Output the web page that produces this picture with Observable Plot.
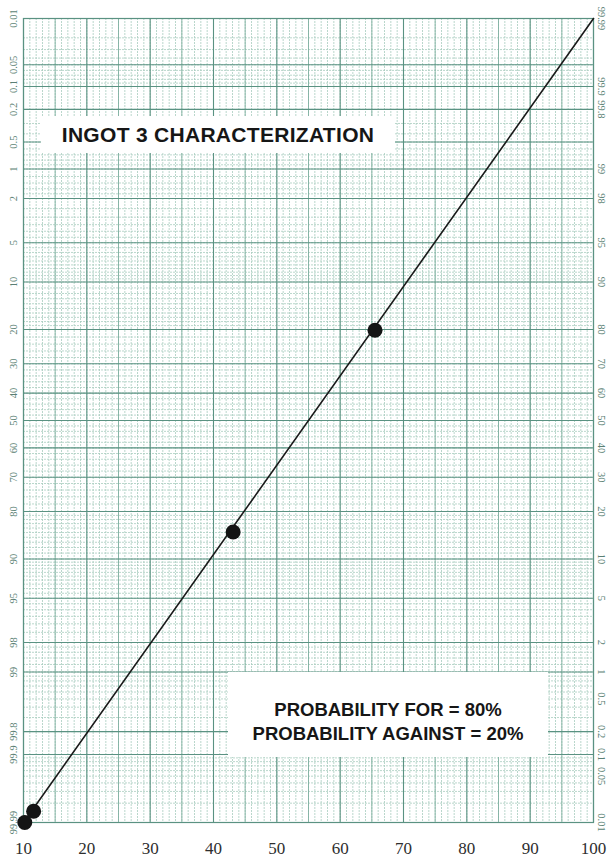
<!DOCTYPE html>
<html>
<head>
<meta charset="utf-8">
<script src="https://cdn.jsdelivr.net/npm/d3@7"></script>
<script src="https://cdn.jsdelivr.net/npm/@observablehq/plot@0.6"></script>
<style>
  html, body { margin: 0; padding: 0; background: #ffffff; }
  #chart { position: relative; width: 607px; height: 857px; }
  .note {
    position: absolute;
    background: #ffffff;
    font-family: "Liberation Sans", Arial, sans-serif;
    font-weight: bold;
    color: #161616;
    text-align: center;
    white-space: nowrap;
  }
</style>
</head>
<body>
<div id="chart">
  <div class="note" id="title" style="left:41px;top:116px;width:354px;height:37px;line-height:38px;font-size:21px;letter-spacing:0.3px;">INGOT 3 CHARACTERIZATION</div>
  <div class="note" id="odds" style="left:228px;top:672px;width:320px;height:85px;font-size:18.5px;line-height:24px;box-sizing:border-box;">
    <div style="margin-top:26px;">PROBABILITY FOR = 80%</div>
    <div>PROBABILITY AGAINST = 20%</div>
  </div>
</div>
<script>
// Measured samples: position along the ingot (x) and cumulative percent
const sampleX = [10.2, 11.6, 43.1, 65.5];
const samplePct = [99.99, 99.985, 84.9, 20.2];

// Straight-line fit drawn across the probability paper
const fitX = [10, 100];
const fitPct = [99.99, 0.01];

// Axis labels
const xTicks = [10, 20, 30, 40, 50, 60, 70, 80, 90, 100];
const leftLabels = ["0.01", "0.05", "0.1", "0.2", "0.5", "1", "2", "5", "10", "20", "30", "40", "50", "60", "70", "80", "90", "95", "98", "99", "99.8", "99.9", "99.99"];
const rightLabels = ["99.99", "99.9", "99.8", "99", "98", "95", "90", "80", "70", "60", "50", "40", "30", "20", "10", "5", "2", "1", "0.5", "0.2", "0.1", "0.05", "0.01"];

// Ruling of the probability paper: [from, to, step] in percent
const paperRuling = [
  [0.01, 0.1, 0.01], [0.1, 1, 0.1], [1, 2, 0.2], [2, 10, 0.5],
  [10, 20, 1], [20, 80, 2], [80, 90, 1], [90, 98, 0.5],
  [98, 99, 0.2], [99, 99.9, 0.1], [99.9, 99.99, 0.01]
];

// Inverse of the standard normal CDF (Acklam's rational approximation)
function probit(p) {
  const a = [-3.969683028665376e+01, 2.209460984245205e+02, -2.759285104469687e+02, 1.383577518672690e+02, -3.066479806614716e+01, 2.506628277459239e+00];
  const b = [-5.447609879822406e+01, 1.615858368580409e+02, -1.556989798598866e+02, 6.680131188771972e+01, -1.328068155288572e+01];
  const c = [-7.784894002430293e-03, -3.223964580411365e-01, -2.400758277161838e+00, -2.549732539343734e+00, 4.374664141464968e+00, 2.938163982698783e+00];
  const d = [7.784695709041462e-03, 3.224671290700398e-01, 2.445134137142996e+00, 3.754408661907416e+00];
  const pl = 0.02425, ph = 1 - pl;
  if (p < pl) {
    const q = Math.sqrt(-2 * Math.log(p));
    return (((((c[0]*q + c[1])*q + c[2])*q + c[3])*q + c[4])*q + c[5]) / ((((d[0]*q + d[1])*q + d[2])*q + d[3])*q + 1);
  }
  if (p > ph) {
    const q = Math.sqrt(-2 * Math.log(1 - p));
    return -(((((c[0]*q + c[1])*q + c[2])*q + c[3])*q + c[4])*q + c[5]) / ((((d[0]*q + d[1])*q + d[2])*q + d[3])*q + 1);
  }
  const q = p - 0.5, r = q * q;
  return (((((a[0]*r + a[1])*r + a[2])*r + a[3])*r + a[4])*r + a[5])*q / (((((b[0]*r + b[1])*r + b[2])*r + b[3])*r + b[4])*r + 1);
}
const z = pct => probit(pct / 100);

// Horizontal rulings in percent
const yMinor = [];
for (const [from, to, step] of paperRuling) {
  const n = Math.round((to - from) / step);
  for (let i = 0; i < n; ++i) yMinor.push(+(from + i * step).toFixed(4));
}
yMinor.push(99.99);
const yMajor = leftLabels.map(Number);

// Vertical rulings
const xMinor = d3.range(10, 100.001, 1);
const xMid = d3.range(15, 100, 10);

const samples = sampleX.map((x, i) => ({x, pct: samplePct[i]}));
const fit = fitX.map((x, i) => ({x, pct: fitPct[i]}));

const minorColor = "#a8cdbf";
const midColor = "#7fb0a0";
const majorColor = "#5a9282";
const labelColor = "#5a7f74";
const serif = "'Liberation Serif', 'Times New Roman', serif";

const plot = Plot.plot({
  width: 607,
  height: 857,
  marginTop: 18,
  marginRight: 14,
  marginBottom: 35,
  marginLeft: 23,
  x: {domain: [10, 100], axis: null},
  y: {domain: [z(99.99), z(0.01)], axis: null},
  style: {background: "#ffffff", overflow: "visible"},
  marks: [
    Plot.ruleX(xMinor, {x: d => d, stroke: minorColor, strokeWidth: 0.8, strokeDasharray: "2,1"}),
    Plot.ruleY(yMinor, {y: d => z(d), stroke: minorColor, strokeWidth: 0.8, strokeDasharray: "2,1"}),
    Plot.ruleX(xMid, {x: d => d, stroke: midColor, strokeWidth: 0.9}),
    Plot.ruleX(xTicks, {x: d => d, stroke: majorColor, strokeWidth: 1.1}),
    Plot.ruleY(yMajor, {y: d => z(d), stroke: majorColor, strokeWidth: 1.1}),
    Plot.frame({stroke: majorColor, strokeWidth: 1.2}),
    Plot.line(fit, {x: "x", y: d => z(d.pct), stroke: "#1a1a1a", strokeWidth: 1.6}),
    Plot.dot(samples, {x: "x", y: d => z(d.pct), r: 7.5, fill: "#141414", stroke: "none"}),
    Plot.text(xTicks, {
      x: d => d, frameAnchor: "bottom", dy: 26, text: d => String(d),
      textAnchor: "middle", lineAnchor: "middle",
      fontSize: 17, fontFamily: serif, fill: "#2e2e2e"
    }),
    Plot.text(leftLabels, {
      y: d => z(+d), frameAnchor: "left", dx: -10, text: d => d, rotate: -90,
      textAnchor: "middle", lineAnchor: "middle",
      fontSize: 10.5, fontFamily: serif, fill: labelColor
    }),
    Plot.text(rightLabels, {
      y: d => z(100 - d), frameAnchor: "right", dx: 8, text: d => d, rotate: 90,
      textAnchor: "middle", lineAnchor: "middle",
      fontSize: 10.5, fontFamily: serif, fill: labelColor
    })
  ]
});

document.getElementById("chart").prepend(plot);
</script>
</body>
</html>
